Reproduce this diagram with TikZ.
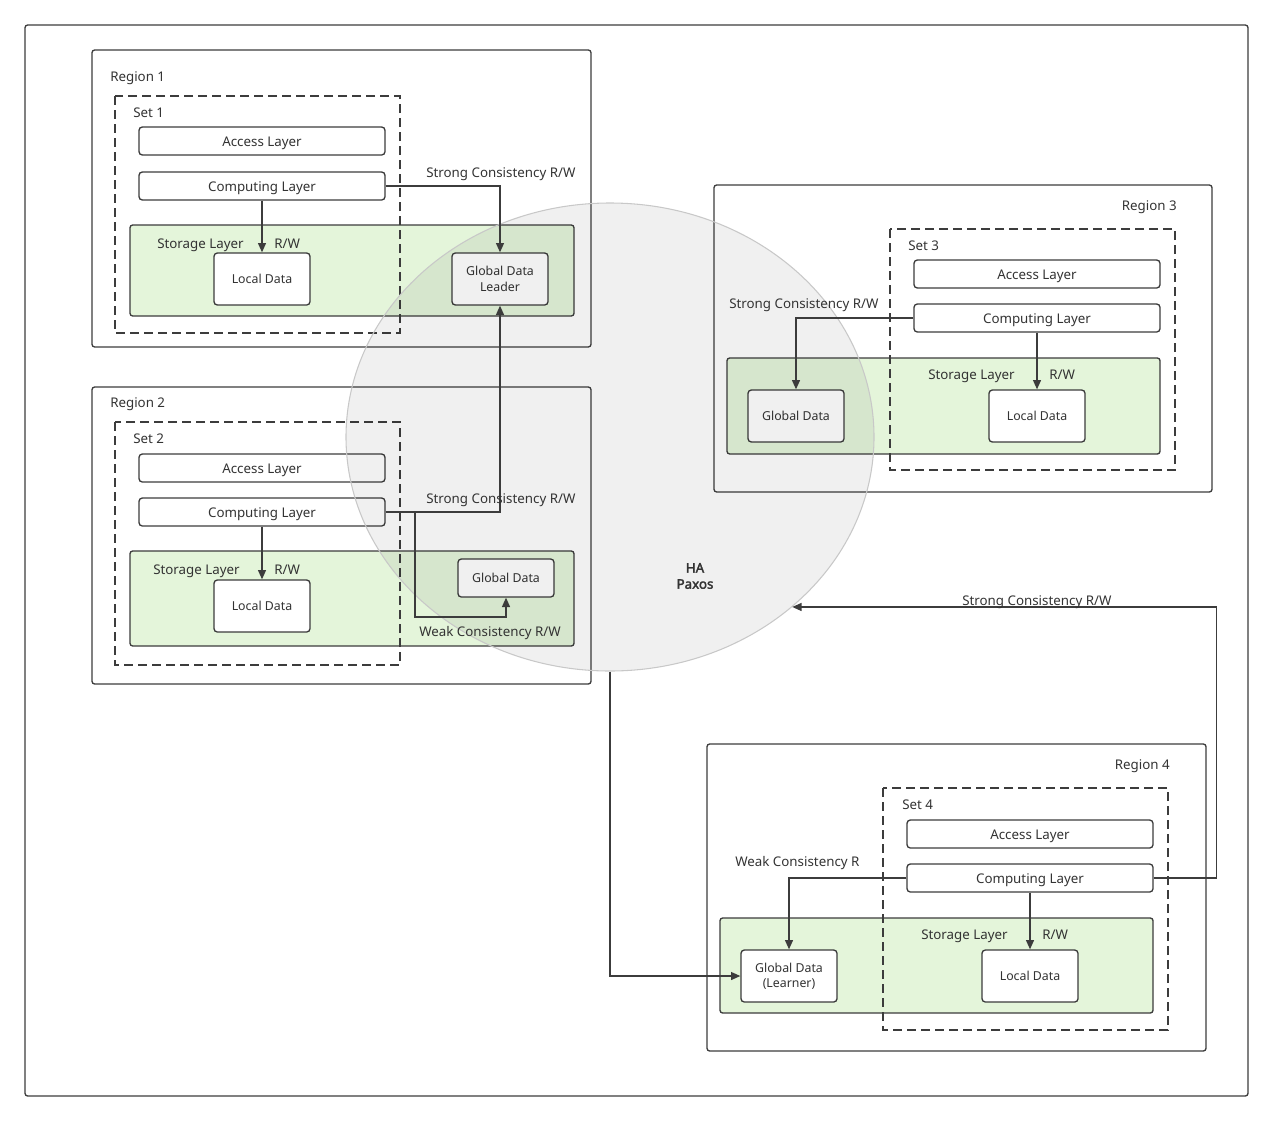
\documentclass[tikz,border=0pt]{standalone}
\usepackage{fontspec}
\setmainfont{Noto Sans}
\newfontfamily\paxosfont[FakeBold=2.5]{Noto Sans}
\usetikzlibrary{arrows.meta,shapes.geometric}
\definecolor{linegray}{RGB}{60,60,60}
\definecolor{txtgray}{RGB}{51,51,51}
\definecolor{storegreen}{RGB}{228,245,218}
\definecolor{circgray}{RGB}{200,200,200}
\tikzset{
  region/.style={draw=linegray,line width=1pt,rounded corners=2pt},
  setbox/.style={draw=linegray,line width=1pt,dash pattern=on 6.75pt off 3.75pt},
  storage/.style={draw=linegray,fill=storegreen,line width=1pt,rounded corners=2pt},
  layer/.style={draw=linegray,fill=white,line width=1pt,rounded corners=2.5pt,
    minimum width=184.5pt,minimum height=21pt,inner sep=0pt,
    text height=9pt,text depth=1pt,
    font=\fontsize{10}{12}\selectfont,text=txtgray},
  datab/.style={draw=linegray,fill=white,line width=1pt,rounded corners=2.5pt,
    minimum width=72pt,minimum height=39pt,inner sep=0pt,align=center,
    font=\fontsize{9.25}{11.5}\selectfont,text=txtgray},
  lbl/.style={anchor=west,inner sep=0pt,text height=9pt,text depth=1pt,
    font=\fontsize{10}{12}\selectfont,text=txtgray},
  conn/.style={draw=linegray,line width=1pt,-{Triangle[length=7pt,width=6pt]}},
}
\begin{document}
\begin{tikzpicture}[x=0.75pt,y=-0.75pt]
\useasboundingbox (0,0) rectangle (1273,1121);
\draw[region] (25,25) rectangle (1248,1096);
% Region 1
\draw[region] (92,50) rectangle (591,347);
\draw[storage] (130,225) rectangle (574,316);
\draw[setbox] (115,96) rectangle (400,333);
\node[lbl] (r1) at (110,76) {Region 1};
\node[lbl] (s1) at (133,112) {Set 1};
\node[layer] (acc1) at (262,141) {Access Layer};
\node[layer] (comp1) at (262,186) {Computing Layer};
\node[lbl] at (157,243) {Storage Layer};
\node[lbl] at (274,243) {R/W};
\node[datab] (loc1) at (262,279) {Local Data};
\node[datab] (lead) at (500,279) {Global Data\\Leader};
% Region 2
\draw[region] (92,387) rectangle (591,684);
\draw[storage] (130,551) rectangle (574,646);
\draw[setbox] (115,422) rectangle (400,665);
\node[lbl] (r2) at (110,402) {Region 2};
\node[lbl] (s2) at (133,438) {Set 2};
\node[layer] (acc2) at (262,468) {Access Layer};
\node[layer] (comp2) at (262,512) {Computing Layer};
\node[lbl] at (153,569) {Storage Layer};
\node[lbl] at (274,569) {R/W};
\node[datab] (loc2) at (262,606) {Local Data};
\node[datab,minimum height=28.5pt] (glob2) at (506,578) {Global Data};
% Region 3
\draw[region] (714,185) rectangle (1212,492);
\draw[storage] (727,358) rectangle (1160,454);
\draw[setbox] (890,229) rectangle (1175,470);
\node[lbl,anchor=east] (r3) at (1177,205) {Region 3};
\node[lbl] (s3) at (908,245) {Set 3};
\node[layer] (acc3) at (1037,274) {Access Layer};
\node[layer] (comp3) at (1037,318) {Computing Layer};
\node[lbl] at (928,374) {Storage Layer};
\node[lbl] at (1049,374) {R/W};
\node[datab] (glob3) at (796,416) {Global Data};
\node[datab] (loc3) at (1037,416) {Local Data};
% Region 4
\draw[region] (707,744) rectangle (1206,1051);
\draw[storage] (720,918) rectangle (1153,1013);
\draw[setbox] (883,788) rectangle (1168,1030);
\node[lbl,anchor=east] (r4) at (1170,764) {Region 4};
\node[lbl] (s4) at (902,804) {Set 4};
\node[layer] (acc4) at (1030,834) {Access Layer};
\node[layer] (comp4) at (1030,878) {Computing Layer};
\node[lbl] at (921,934) {Storage Layer};
\node[lbl] at (1042,934) {R/W};
\node[datab] (glob4) at (789,976) {Global Data\\(Learner)};
\node[datab] (loc4) at (1030,976) {Local Data};
% HA circle over everything
\node[ellipse,draw=circgray,line width=0.8pt,fill=black,fill opacity=0.06,draw opacity=1,
  minimum width=396pt,minimum height=351pt,inner sep=0pt] (ha) at (610,437) {};
\node[align=center,font=\paxosfont\fontsize{10}{12}\selectfont,text=txtgray] (paxos) at (695,576) {HA\\Paxos};
% connectors
\draw[conn] (comp1.south) -- (loc1.north);
\draw[conn] (comp1.east) -| (lead.north);
\draw[conn] (comp2.south) -- (loc2.north);
\draw[conn] (comp2.east) -| (lead.south);
\draw[conn] (comp2.east) -| (415,617) -| (glob2.south);
\draw[conn] (comp3.south) -- (loc3.north);
\draw[conn] (comp3.west) -| (glob3.north);
\draw[conn] (comp4.south) -- (loc4.north);
\draw[conn] (comp4.west) -| (glob4.north);
\draw[conn] (comp4.east) -- ++(63,0) |- (ha.-43.6);
\draw[conn] (ha.south) |- (glob4.west);
% connector labels
\node[lbl] at (426,172) {Strong Consistency R/W};
\node[lbl] at (426,498) {Strong Consistency R/W};
\node[lbl] at (419,631) {Weak Consistency R/W};
\node[lbl] at (729,303) {Strong Consistency R/W};
\node[lbl] at (735,861) {Weak Consistency R};
\node[lbl] at (962,600) {Strong Consistency R/W};
\end{tikzpicture}
\end{document}
